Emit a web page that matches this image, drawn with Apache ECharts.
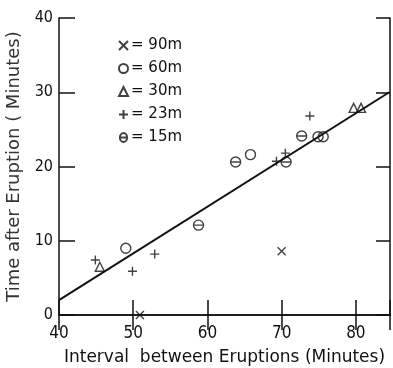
<!DOCTYPE html>
<html><head><meta charset="utf-8">
<script src="https://cdn.jsdelivr.net/npm/echarts@6/dist/echarts.min.js"></script>
<style>html,body{margin:0;padding:0;background:#fff}#c{width:393px;height:368px}</style>
</head><body><div id="c"></div>
<script>
// Data: [interval (min), time after eruption (min)]
var pts90m = [[50.9, 0.0], [70.0, 8.6]];
var pts60m = [[49.0, 9.0], [65.8, 21.6], [74.9, 24.0], [75.6, 24.0]];
var pts30m = [[45.5, 6.5], [79.7, 27.9], [80.7, 27.9]];
var pts23m = [[44.9, 7.4], [49.9, 5.9], [52.9, 8.2], [69.3, 20.7], [70.5, 21.8], [73.8, 26.8]];
var pts15m = [[58.8, 12.1], [63.8, 20.6], [70.6, 20.6], [72.7, 24.1]];
var fitLine = [[40, 2.0], [84.5, 30.0]];
var seriesNames = ['90m', '60m', '30m', '23m', '15m'];
var xTicks = [40, 50, 60, 70, 80];
var yTicks = [0, 10, 20, 30, 40];

var chart = echarts.init(document.getElementById('c'));
var ink = '#111';
var mk = {color: 'transparent', borderColor: ink, borderWidth: 1.4};
var tickFont = 'Liberation Sans Narrow, DejaVu Sans Condensed, sans-serif';
function sc(name, data, symbol, size) {
  return {type: 'scatter', name: name, data: data, symbol: symbol, symbolSize: size,
    itemStyle: mk, xAxisIndex: 0, yAxisIndex: 0, z: 5, clip: false};
}
var option = {
  animation: false,
  backgroundColor: '#fff',
  grid: {left: 59, right: 3, top: 18, bottom: 53, containLabel: false, outerBoundsMode: 'none'},
  legend: {
    orient: 'vertical', left: 113, top: 33, itemGap: 8, itemWidth: 9, itemHeight: 9,
    data: seriesNames, formatter: function (n) { return '= ' + n; },
    textStyle: {color: ink, fontSize: 15, fontFamily: 'DejaVu Sans, sans-serif', padding: [0, 0, 0, -2]}
  },
  xAxis: [{
    type: 'value', min: 40, max: 84.6, interval: 10,
    name: 'Interval  between Eruptions (Minutes)', nameLocation: 'middle', nameGap: 34,
    nameTextStyle: {color: ink, fontSize: 17, fontFamily: 'DejaVu Sans, sans-serif'},
    axisLine: {lineStyle: {color: ink, width: 1.5}},
    axisTick: {inside: true, length: 15, lineStyle: {color: ink, width: 1.5}},
    axisLabel: {formatter: function (v) { return xTicks.indexOf(v) >= 0 ? String(v) : ''; }, margin: 10, fontSize: 17, color: ink, fontFamily: tickFont},
    splitLine: {show: false}
  }, {
    type: 'value', position: 'top', min: 40, max: 84.6, interval: 10,
    axisLine: {lineStyle: {color: ink, width: 1.5}},
    axisTick: {inside: true, length: 15, lineStyle: {color: ink, width: 1.5}},
    axisLabel: {show: false}, splitLine: {show: false}
  }],
  yAxis: [{
    type: 'value', min: 0, max: 40, interval: 10,
    name: 'Time after Eruption ( Minutes)', nameLocation: 'middle', nameGap: 31,
    nameTextStyle: {color: '#333', fontSize: 18, fontFamily: 'DejaVu Sans, sans-serif'},
    axisLine: {lineStyle: {color: ink, width: 1.5}},
    axisTick: {inside: true, length: 16, lineStyle: {color: ink, width: 1.5}},
    axisLabel: {formatter: function (v) { return yTicks.indexOf(v) >= 0 ? String(v) : ''; }, margin: 6, fontSize: 16, color: ink, fontFamily: tickFont},
    splitLine: {show: false}
  }, {
    type: 'value', position: 'right', min: 0, max: 40, interval: 10,
    axisLine: {lineStyle: {color: ink, width: 1.5}},
    axisTick: {inside: true, length: 14, lineStyle: {color: ink, width: 1.5}},
    axisLabel: {show: false}, splitLine: {show: false}
  }],
  series: [
    sc('90m', pts90m, 'path://M0,0L10,10M10,0L0,10', 8),
    sc('60m', pts60m, 'circle', 10),
    sc('30m', pts30m, 'triangle', 9),
    sc('23m', pts23m, 'path://M5,0L5,10M0,5L10,5', 9),
    sc('15m', pts15m, 'path://M5,0A4,5 0 1,0 5,10A4,5 0 1,0 5,0ZM1,5L9,5', 10),
    {type: 'line', name: 'fit', data: fitLine, symbol: 'none', z: 3,
     lineStyle: {color: ink, width: 2}, xAxisIndex: 0, yAxisIndex: 0}
  ]
};
chart.setOption(option);
</script></body></html>
